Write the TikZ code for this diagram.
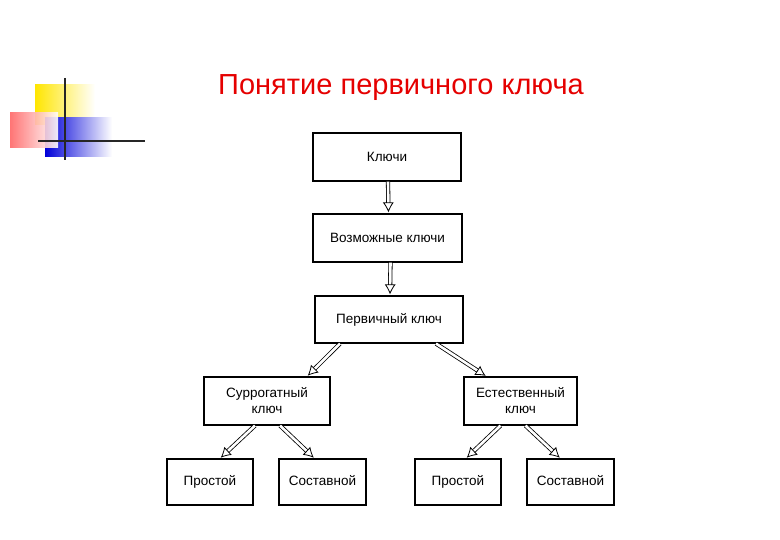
\documentclass[tikz,border=0pt]{standalone}
\usepackage{fontspec}
\setmainfont{Liberation Sans}
\usetikzlibrary{arrows.meta}
\begin{document}
\begin{tikzpicture}[x=1pt,y=-1pt,
  box/.style={draw,line width=1.2pt,align=center,font=\fontsize{13.5}{16}\selectfont,inner sep=0pt},
  arr/.style={double,double distance=2.6pt,line width=0.8pt,-{Latex[open,length=10pt,width=11pt]},shorten >=1pt}]
\useasboundingbox (0,0) rectangle (780,540);
% logo
\shade[left color=yellow!80!orange, right color=white] (35,85) rectangle (95,125);
\shade[left color=blue!85!black, right color=white] (45,118) rectangle (112,157);
\shade[left color=red!60, right color=white, opacity=0.9] (10,113) rectangle (58,148);
\draw[line width=2.5pt,black!85] (65,78) -- (65,160);
\draw[line width=2.5pt,black!85] (38,141) -- (145,141);
% title
\node[font=\fontsize{29}{34}\selectfont,text=red!90!black] (t) at (401,88) {Понятие первичного ключа};
% boxes
\node[box,minimum width=148,minimum height=48] (k) at (387,157) {Ключи};
\node[box,minimum width=149,minimum height=48] (v) at (387.5,238) {Возможные ключи};
\node[box,minimum width=148,minimum height=47] (p) at (389,319.5) {Первичный ключ};
\node[box,minimum width=126,minimum height=48] (s) at (267,401) {Суррогатный\\ключ};
\node[box,minimum width=113,minimum height=48] (e) at (520.5,401) {Естественный\\ключ};
\tikzset{leaf/.style={box,text height=10pt,text depth=3pt}}
\node[leaf,minimum width=86,minimum height=46] (s1) at (210,482) {Простой};
\node[leaf,minimum width=87,minimum height=46] (s2) at (322.5,482) {Составной};
\node[leaf,minimum width=86,minimum height=46] (e1) at (458,482) {Простой};
\node[leaf,minimum width=87,minimum height=46] (e2) at (570.5,482) {Составной};
% arrows
\draw[arr] ([xshift=1pt]k.south) -- ([xshift=1pt]v.north);
\draw[arr] ([xshift=3pt]v.south) -- ([xshift=1pt]p.north);
\draw[arr] ([xshift=-49pt]p.south) -- ([xshift=40pt]s.north);
\draw[arr] ([xshift=47pt]p.south) -- ([xshift=-34pt]e.north);
\draw[arr] ([xshift=-12pt]s.south) -- ([xshift=10pt]s1.north);
\draw[arr] ([xshift=13pt]s.south) -- ([xshift=-8pt]s2.north);
\draw[arr] ([xshift=-20pt]e.south) -- ([xshift=8pt]e1.north);
\draw[arr] ([xshift=5pt]e.south) -- ([xshift=-10pt]e2.north);
\end{tikzpicture}
\end{document}
